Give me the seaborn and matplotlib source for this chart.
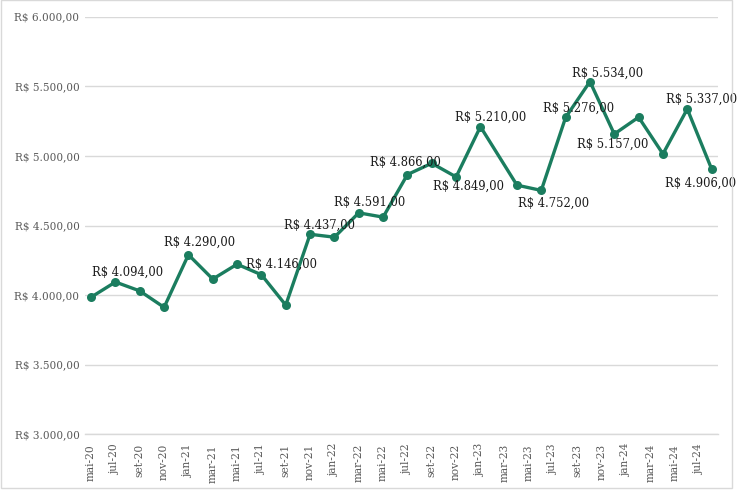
import matplotlib
matplotlib.use("Agg")
import matplotlib.pyplot as plt
import seaborn as sns
import pandas as pd
from matplotlib.patches import Rectangle

# ---- data ----
dates = ["2020-05", "2020-07", "2020-09", "2020-11",
         "2021-01", "2021-03", "2021-05", "2021-07", "2021-09", "2021-11",
         "2022-01", "2022-03", "2022-05", "2022-07", "2022-09", "2022-11",
         "2023-01", "2023-04", "2023-06", "2023-08", "2023-10", "2023-12",
         "2024-02", "2024-04", "2024-06", "2024-08"]
values = [3985, 4094, 4030, 3912,
          4290, 4115, 4222, 4146, 3928, 4437,
          4416, 4591, 4560, 4866, 4947, 4849,
          5210, 4790, 4752, 5276, 5534, 5157,
          5278, 5014, 5337, 4906]
tick_labels = ["mai-20", "jul-20", "set-20", "nov-20",
               "jan-21", "mar-21", "mai-21", "jul-21", "set-21", "nov-21",
               "jan-22", "mar-22", "mai-22", "jul-22", "set-22", "nov-22",
               "jan-23", "mar-23", "mai-23", "jul-23", "set-23", "nov-23",
               "jan-24", "mar-24", "mai-24", "jul-24"]
y_ticks = [3000, 3500, 4000, 4500, 5000, 5500, 6000]

# label placement (offset in pixels: right, up) for labelled points
label_offsets = {
    "2020-07": (12, 9.4), "2021-01": (11, 12), "2021-07": (20, 10.7),
    "2021-11": (9, 9), "2022-03": (11, 11), "2022-07": (-2, 12.6),
    "2022-11": (12, -9), "2023-01": (10, 9.4), "2023-06": (12.6, -13.3),
    "2023-08": (12.5, 9), "2023-10": (18, 8.7), "2023-12": (-1.5, -10),
    "2024-06": (14, 10), "2024-08": (-10.7, -14),
}

def brl(v):
    s = f"{v:,.2f}".replace(",", "X").replace(".", ",").replace("X", ".")
    return "R$ " + s

def month_index(d):
    y, m = d.split("-")
    return (int(y) - 2020) * 12 + int(m) - 5

df = pd.DataFrame({"date": dates, "valor": values})
df["x"] = df["date"].map(month_index) + 0.5
n_months = month_index("2024-08") + 1

sns.set_theme(style="white")
plt.rcParams["font.family"] = ["DejaVu Serif"]

LINE = "#1b7d5f"
GRID = "#d9d9d9"
TXT = "#595959"

fig = plt.figure(figsize=(7.37, 4.90), dpi=100)
ax = fig.add_axes([85 / 737, 1 - 434.3 / 490, (717.7 - 85) / 737, (434.3 - 16.7) / 490])

sns.lineplot(data=df, x="x", y="valor", ax=ax, color=LINE, linewidth=2.4,
             marker="o", markersize=6.5, markeredgewidth=0, zorder=3)

ax.set_xlim(0, n_months)
ax.set_ylim(3000, 6000)
ax.set_yticks(y_ticks)
ax.set_yticklabels([brl(v) for v in y_ticks], color=TXT, fontsize=7.6)
ax.grid(axis="y", color=GRID, linewidth=1)
ax.set_axisbelow(True)

tick_pos = [i + 0.5 for i in range(0, n_months, 2)][:len(tick_labels)]
ax.set_xticks(tick_pos)
ax.set_xticklabels(tick_labels, rotation=90, color=TXT, fontsize=7.7)
ax.set_xticks(list(range(0, n_months + 1)), minor=True)
ax.tick_params(axis="x", which="major", length=0, pad=7)
ax.tick_params(axis="x", which="minor", length=4, color=GRID, width=1, direction="out")
ax.tick_params(axis="y", length=0, pad=4)
ax.set_xlabel("")
ax.set_ylabel("")

for s in ["top", "right", "left"]:
    ax.spines[s].set_visible(False)
ax.spines["bottom"].set_color(GRID)
ax.spines["bottom"].set_linewidth(1)

for d, v, x in zip(df["date"], df["valor"], df["x"]):
    if d in label_offsets:
        dx, dy = label_offsets[d]
        ax.annotate(brl(v), xy=(x, v), xytext=(dx, dy), textcoords="offset pixels",
                    ha="center", va="center", fontsize=8.3, color="#1a1a1a",
                    clip_on=False, zorder=4)

fig.patches.append(Rectangle((0.5 / 737, 2 / 490), 731.5 / 737, 487.5 / 490,
                             transform=fig.transFigure, fill=False,
                             edgecolor=GRID, linewidth=1))

fig.savefig("out.png", dpi=100, facecolor="white")
